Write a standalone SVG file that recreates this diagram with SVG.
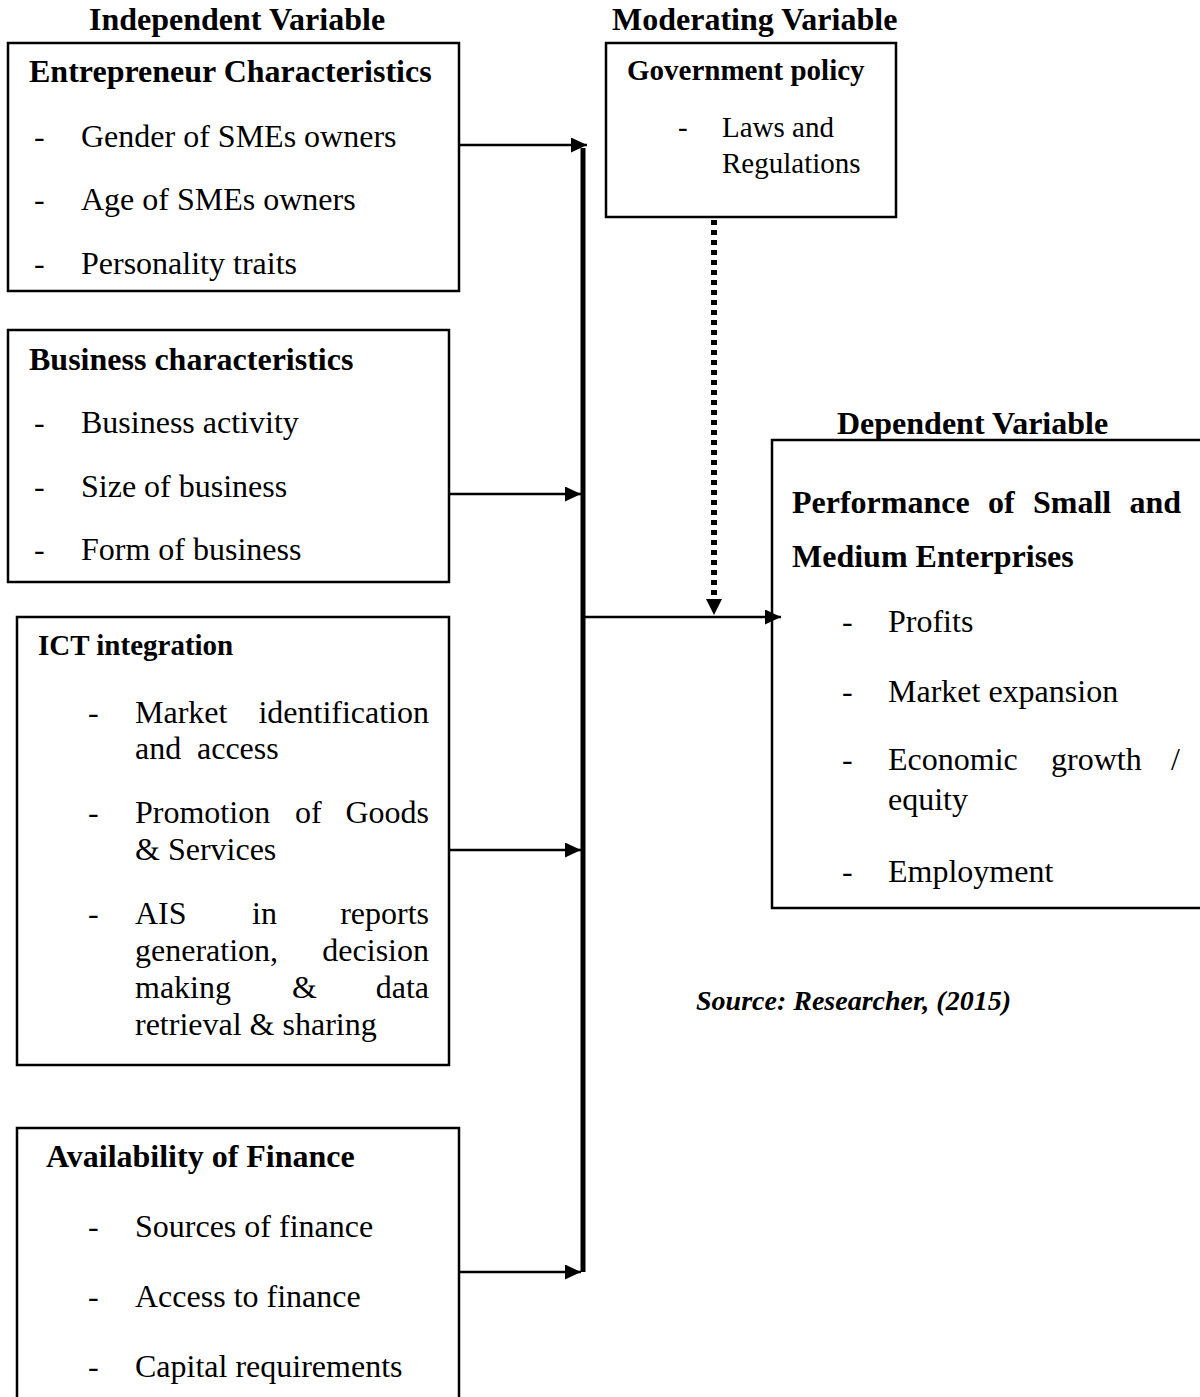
<svg xmlns="http://www.w3.org/2000/svg" width="1200" height="1397" viewBox="0 0 1200 1397">
<defs>
<style>
text{font-family:"Liberation Serif","Times New Roman",serif;fill:#000;}
.h{font-size:32px;font-weight:bold;}
.hs{font-size:29px;font-weight:bold;}
.t{font-size:32px;}
.ts{font-size:29px;}
.src{font-size:28px;font-weight:bold;font-style:italic;}
.box{fill:#fff;stroke:#000;stroke-width:2.5;}
.con{stroke:#000;stroke-width:2.5;fill:none;}
</style>
<marker id="ah" markerUnits="userSpaceOnUse" markerWidth="18" markerHeight="16" refX="16" refY="7.5" orient="auto">
<path d="M0,0 L16,7.5 L0,15 z" fill="#000"/>
</marker>
</defs>
<rect width="1200" height="1397" fill="#fff"/>

<text class="h" x="89" y="30">Independent Variable</text>
<text class="h" x="612" y="30">Moderating Variable</text>
<text class="h" x="837" y="434">Dependent Variable</text>

<g id="entrepreneur">
<rect class="box" x="8" y="43" width="451" height="248"/>
<text class="h" x="29" y="82">Entrepreneur Characteristics</text>
<text class="t" x="34" y="147">-</text><text class="t" x="81" y="147">Gender of SMEs owners</text>
<text class="t" x="34" y="210">-</text><text class="t" x="81" y="210">Age of SMEs owners</text>
<text class="t" x="34" y="274">-</text><text class="t" x="81" y="274">Personality traits</text>
</g>

<g id="business">
<rect class="box" x="8" y="330" width="441" height="252"/>
<text class="h" x="29" y="370">Business characteristics</text>
<text class="t" x="34" y="433">-</text><text class="t" x="81" y="433">Business activity</text>
<text class="t" x="34" y="497">-</text><text class="t" x="81" y="497">Size of business</text>
<text class="t" x="34" y="560">-</text><text class="t" x="81" y="560">Form of business</text>
</g>

<g id="ict">
<rect class="box" x="17" y="617" width="432" height="448"/>
<text class="hs" x="38" y="655">ICT integration</text>
<text class="t" x="88" y="723">-</text>
<text class="t" x="135" y="723">Market</text><text class="t" x="429" y="723" text-anchor="end">identification</text>
<text class="t" x="135" y="759">and</text><text class="t" x="197" y="759">access</text>
<text class="t" x="88" y="823">-</text>
<text class="t" x="135" y="823">Promotion</text><text class="t" x="295" y="823">of</text><text class="t" x="429" y="823" text-anchor="end">Goods</text>
<text class="t" x="135" y="860">&amp; Services</text>
<text class="t" x="88" y="924">-</text>
<text class="t" x="135" y="924">AIS</text><text class="t" x="252" y="924">in</text><text class="t" x="429" y="924" text-anchor="end">reports</text>
<text class="t" x="135" y="961">generation,</text><text class="t" x="429" y="961" text-anchor="end">decision</text>
<text class="t" x="135" y="998">making</text><text class="t" x="292" y="998">&amp;</text><text class="t" x="429" y="998" text-anchor="end">data</text>
<text class="t" x="135" y="1035">retrieval &amp; sharing</text>
</g>

<g id="finance">
<rect class="box" x="17" y="1128" width="442" height="280"/>
<text class="h" x="46" y="1167">Availability of Finance</text>
<text class="t" x="88" y="1237">-</text><text class="t" x="135" y="1237">Sources of finance</text>
<text class="t" x="88" y="1307">-</text><text class="t" x="135" y="1307">Access to finance</text>
<text class="t" x="88" y="1377">-</text><text class="t" x="135" y="1377">Capital requirements</text>
</g>

<g id="government">
<rect class="box" x="606" y="43" width="290" height="174"/>
<text class="hs" x="627" y="80">Government policy</text>
<text class="ts" x="678" y="137">-</text><text class="ts" x="722" y="137">Laws and</text>
<text class="ts" x="722" y="173">Regulations</text>
</g>

<g id="performance">
<rect class="box" x="772" y="440" width="440" height="468"/>
<text class="h" x="792" y="513">Performance</text><text class="h" x="988" y="513">of</text><text class="h" x="1033" y="513">Small</text><text class="h" x="1181" y="513" text-anchor="end">and</text>
<text class="h" x="792" y="567">Medium Enterprises</text>
<text class="t" x="842" y="632">-</text><text class="t" x="888" y="632">Profits</text>
<text class="t" x="842" y="702">-</text><text class="t" x="888" y="702">Market expansion</text>
<text class="t" x="842" y="770">-</text><text class="t" x="888" y="770">Economic</text><text class="t" x="1051" y="770">growth</text><text class="t" x="1180" y="770" text-anchor="end">/</text>
<text class="t" x="888" y="810">equity</text>
<text class="t" x="842" y="882">-</text><text class="t" x="888" y="882">Employment</text>
</g>

<text class="src" x="696" y="1010">Source: Researcher, (2015)</text>

<g id="connectors">
<line x1="583" y1="148" x2="583" y2="1272" stroke="#000" stroke-width="5"/>
<line class="con" x1="459" y1="145" x2="587" y2="145" marker-end="url(#ah)"/>
<line class="con" x1="449" y1="494" x2="581" y2="494" marker-end="url(#ah)"/>
<line class="con" x1="449" y1="850" x2="581" y2="850" marker-end="url(#ah)"/>
<line class="con" x1="459" y1="1272" x2="581" y2="1272" marker-end="url(#ah)"/>
<line class="con" x1="583" y1="617" x2="781" y2="617" marker-end="url(#ah)"/>
<line x1="714" y1="220" x2="714" y2="598" stroke="#000" stroke-width="6" stroke-dasharray="5 5"/>
<path d="M706,599 L722,599 L714,615 z" fill="#000"/>
</g>
</svg>
